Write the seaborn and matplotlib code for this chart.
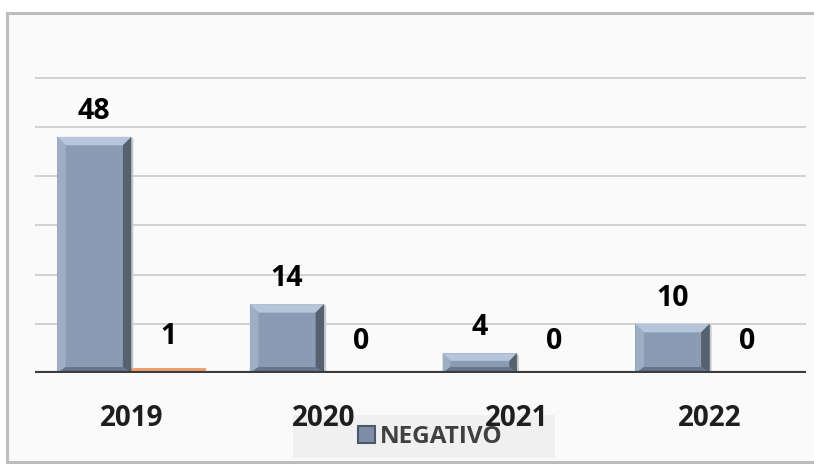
import numpy as np
import pandas as pd
import seaborn as sns
import matplotlib.pyplot as plt
from matplotlib.patches import Rectangle, Polygon, Patch

# Data
years = ['2019', '2020', '2021', '2022']
negativo = [48, 14, 4, 10]
positivo = [1, 0, 0, 0]
series_names = ['NEGATIVO', 'POSITIVO']
grid_values = [10, 20, 30, 40, 50, 60]

df = pd.DataFrame({
    'year': years * 2,
    'series': [series_names[0]] * len(years) + [series_names[1]] * len(years),
    'value': negativo + positivo,
})

sns.set_theme(style='white')
plt.rcParams['font.family'] = ['Open Sans', 'DejaVu Sans']

W, H = 814, 465
fig = plt.figure(figsize=(W / 100, H / 100), dpi=100)
fig.patch.set_facecolor('white')


def fx(px):
    return px / W


def fy(py):
    return 1 - py / H


# chart frame
frame = Rectangle((fx(7), fy(462)), fx(830) - fx(7), fy(13) - fy(462),
                  transform=fig.transFigure, facecolor='#fafafa',
                  edgecolor='#bdbdbd', lw=2.2, zorder=-10)
fig.patches.append(frame)

# legend background strip
leg_bg = Rectangle((fx(293), fy(458)), fx(555) - fx(293), fy(415) - fy(458),
                   transform=fig.transFigure, facecolor='#f0f0f0',
                   edgecolor='none', zorder=-5)
fig.patches.append(leg_bg)

ax = fig.add_axes([fx(35), fy(373), fx(806) - fx(35), (373 - 28.6) / H])
ax.set_facecolor('none')

blue = '#8a9cb4'
orange = '#f0a070'
sns.barplot(data=df, x='year', y='value', hue='series',
            palette={series_names[0]: blue, series_names[1]: orange},
            width=0.77, saturation=1, legend=False, ax=ax,
            edgecolor='none', zorder=3)

ax.set_xlim(-0.5, 3.5)
ax.set_ylim(0, 70)
ax.set_yticks(grid_values)
ax.yaxis.grid(True, color='#cacaca', lw=1.2)
ax.set_axisbelow(True)
ax.tick_params(axis='y', left=False, labelleft=False)
ax.tick_params(axis='x', bottom=False, pad=16, labelsize=20, labelcolor='#1e1e1e')
for lab in ax.get_xticklabels():
    lab.set_fontweight('bold')
ax.set_xlabel('')
ax.set_ylabel('')
for s in ax.spines.values():
    s.set_visible(False)
ax.axhline(0, color='#3c3c3c', lw=3, zorder=6)

# bevelled faces on the main series bars
to_data = ax.transData.inverted()
for bar in ax.containers[0]:
    x0, y0 = bar.get_x(), bar.get_y()
    w, h = bar.get_width(), bar.get_height()
    (L, B), (R, T) = ax.transData.transform([(x0, y0), (x0 + w, y0 + h)])
    b = min(8.5, (T - B) / 2.6)
    bb = min(6.0, (T - B) / 3.0)
    faces = [
        ([(L, T), (R, T), (R - b, T - b), (L + b, T - b)], '#b6c5d9'),
        ([(L, B), (L, T), (L + b, T - b), (L + b, B + bb)], '#9eafc5'),
        ([(R, B), (R, T), (R - b, T - b), (R - b, B + bb)], '#56616f'),
        ([(L, B), (R, B), (R - b, B + bb), (L + b, B + bb)], '#67748a'),
    ]
    for pts, col in faces:
        ax.add_patch(Polygon(to_data.transform(pts), closed=True,
                             facecolor=col, edgecolor='none', zorder=4))
    ax.add_patch(Polygon(to_data.transform([(R, B), (R, T), (R + 2, T - 2), (R + 2, B)]),
                         closed=True, facecolor='#c9c9c9', edgecolor='none', zorder=2))

ax.bar_label(ax.containers[0], padding=8, fontsize=20.5, fontweight='bold', color='black')
ax.bar_label(ax.containers[1], padding=12, fontsize=20.5, fontweight='bold', color='black')

leg = fig.legend(handles=[Patch(facecolor='#7d8ea6', edgecolor='#4d5868', lw=1.5)],
                 labels=[series_names[0]], loc='center',
                 bbox_to_anchor=(fx(430), fy(437)), frameon=False,
                 prop={'weight': 'bold', 'size': 17.5}, labelcolor='#404040',
                 handlelength=0.7, handleheight=0.7, handletextpad=0.2)
leg.set_zorder(-1)

fig.savefig('out.png', dpi=100)
